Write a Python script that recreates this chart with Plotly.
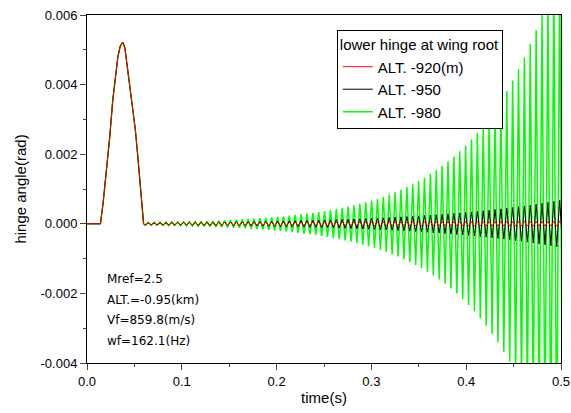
import plotly.graph_objects as go

# initial pulse, identical for all three altitudes
pulse_t = [0.0, 0.0142, 0.0170, 0.0203, 0.0240, 0.0272, 0.0300, 0.0326, 0.0350, 0.0378,
           0.0400, 0.0431, 0.0460, 0.0484, 0.0510, 0.0537, 0.0565, 0.0597, 0.0615]
pulse_y = [0.0, 0.0, 0.0006, 0.00146, 0.0025, 0.00356, 0.0043, 0.0048, 0.0051, 0.00522,
           0.00505, 0.0044, 0.0039, 0.0034, 0.0027, 0.0019, 0.0011, 0.0, -0.00004]

# times of the oscillation peaks after the pulse
osc_t = [0.0646, 0.0677, 0.0708, 0.0739, 0.0770, 0.0801, 0.0832, 0.0863, 0.0894, 0.0925,
         0.0956, 0.0987, 0.1018, 0.1049, 0.1080, 0.1111, 0.1142, 0.1173, 0.1204, 0.1235,
         0.1266, 0.1297, 0.1328, 0.1359, 0.1390, 0.1421, 0.1452, 0.1483, 0.1514, 0.1545,
         0.1576, 0.1607, 0.1638, 0.1669, 0.1700, 0.1731, 0.1762, 0.1793, 0.1824, 0.1855,
         0.1886, 0.1917, 0.1948, 0.1979, 0.2010, 0.2041, 0.2072, 0.2103, 0.2134, 0.2165,
         0.2196, 0.2227, 0.2258, 0.2289, 0.2320, 0.2351, 0.2382, 0.2413, 0.2444, 0.2475,
         0.2506, 0.2537, 0.2568, 0.2599, 0.2630, 0.2661, 0.2692, 0.2723, 0.2754, 0.2785,
         0.2816, 0.2847, 0.2878, 0.2909, 0.2940, 0.2971, 0.3002, 0.3033, 0.3064, 0.3095,
         0.3126, 0.3157, 0.3188, 0.3219, 0.3250, 0.3281, 0.3312, 0.3343, 0.3374, 0.3405,
         0.3436, 0.3467, 0.3498, 0.3529, 0.3560, 0.3591, 0.3622, 0.3653, 0.3684, 0.3715,
         0.3746, 0.3777, 0.3808, 0.3839, 0.3870, 0.3901, 0.3932, 0.3963, 0.3994, 0.4025,
         0.4056, 0.4087, 0.4118, 0.4149, 0.4180, 0.4211, 0.4242, 0.4273, 0.4304, 0.4335,
         0.4366, 0.4397, 0.4428, 0.4459, 0.4490, 0.4521, 0.4552, 0.4583, 0.4614, 0.4645,
         0.4676, 0.4707, 0.4738, 0.4769, 0.4800, 0.4831, 0.4862, 0.4893, 0.4924, 0.4955,
         0.4986, 0.5017]

alt920 = [40e-6, -40e-6, 40e-6, -40e-6, 40e-6, -40e-6, 40e-6, -40e-6, 40e-6, -40e-6,
          42e-6, -42e-6, 42e-6, -42e-6, 42e-6, -42e-6, 42e-6, -42e-6, 42e-6, -42e-6,
          44e-6, -44e-6, 44e-6, -44e-6, 44e-6, -44e-6, 44e-6, -44e-6, 44e-6, -44e-6,
          46e-6, -46e-6, 46e-6, -46e-6, 46e-6, -46e-6, 46e-6, -46e-6, 46e-6, -46e-6,
          48e-6, -48e-6, 48e-6, -48e-6, 48e-6, -48e-6, 48e-6, -48e-6, 48e-6, -48e-6,
          50e-6, -50e-6, 50e-6, -50e-6, 50e-6, -50e-6, 50e-6, -50e-6, 50e-6, -50e-6,
          52e-6, -52e-6, 52e-6, -52e-6, 52e-6, -52e-6, 52e-6, -52e-6, 52e-6, -52e-6,
          55e-6, -55e-6, 55e-6, -55e-6, 55e-6, -55e-6, 55e-6, -55e-6, 55e-6, -55e-6,
          57e-6, -57e-6, 57e-6, -57e-6, 57e-6, -57e-6, 57e-6, -57e-6, 57e-6, -57e-6,
          59e-6, -59e-6, 59e-6, -59e-6, 59e-6, -59e-6, 59e-6, -59e-6, 59e-6, -59e-6,
          61e-6, -61e-6, 61e-6, -61e-6, 61e-6, -61e-6, 61e-6, -61e-6, 61e-6, -61e-6,
          63e-6, -63e-6, 63e-6, -63e-6, 63e-6, -63e-6, 63e-6, -63e-6, 63e-6, -63e-6,
          65e-6, -65e-6, 65e-6, -65e-6, 65e-6, -65e-6, 65e-6, -65e-6, 65e-6, -65e-6,
          67e-6, -67e-6, 67e-6, -67e-6, 67e-6, -67e-6, 67e-6, -67e-6, 67e-6, -67e-6,
          69e-6, -69e-6]

alt950 = [28.4e-6, -29.1e-6, 29.7e-6, -30.4e-6, 31.1e-6, -31.8e-6, 32.5e-6, -33.3e-6, 34.0e-6, -34.8e-6,
          35.6e-6, -36.4e-6, 37.2e-6, -38.1e-6, 39.0e-6, -39.9e-6, 40.8e-6, -41.7e-6, 42.7e-6, -43.6e-6,
          44.7e-6, -45.7e-6, 46.8e-6, -47.8e-6, 48.9e-6, -50.1e-6, 51.2e-6, -52.4e-6, 53.6e-6, -54.8e-6,
          56.0e-6, -57.3e-6, 58.6e-6, -59.9e-6, 61.3e-6, -62.7e-6, 64.1e-6, -65.6e-6, 67.1e-6, -68.7e-6,
          70.2e-6, -71.8e-6, 73.5e-6, -75.1e-6, 76.9e-6, -78.6e-6, 80.4e-6, -82.3e-6, 84.1e-6, -86.1e-6,
          88.0e-6, -90.0e-6, 92.1e-6, -94.2e-6, 96.3e-6, -98.6e-6, 100.8e-6, -103.1e-6, 105.5e-6, -107.9e-6,
          110.4e-6, -112.9e-6, 115.5e-6, -118.2e-6, 120.9e-6, -123.6e-6, 126.5e-6, -129.4e-6, 132.3e-6, -135.4e-6,
          138.4e-6, -141.6e-6, 144.8e-6, -148.1e-6, 151.5e-6, -155.0e-6, 158.5e-6, -162.2e-6, 165.9e-6, -169.7e-6,
          173.6e-6, -177.6e-6, 181.6e-6, -185.8e-6, 190.1e-6, -194.4e-6, 198.9e-6, -203.4e-6, 208.1e-6, -212.8e-6,
          217.7e-6, -222.7e-6, 227.8e-6, -233.0e-6, 238.3e-6, -243.8e-6, 249.4e-6, -255.1e-6, 260.9e-6, -266.9e-6,
          273e-6, -279e-6, 286e-6, -292e-6, 299e-6, -306e-6, 313e-6, -320e-6, 327e-6, -335e-6,
          342e-6, -350e-6, 358e-6, -366e-6, 374e-6, -383e-6, 392e-6, -401e-6, 410e-6, -419e-6,
          429e-6, -439e-6, 449e-6, -459e-6, 470e-6, -480e-6, 491e-6, -503e-6, 514e-6, -526e-6,
          538e-6, -550e-6, 563e-6, -576e-6, 589e-6, -603e-6, 616e-6, -630e-6, 645e-6, -660e-6,
          675e-6, -690e-6]

alt980 = [37.8e-6, -39.3e-6, 40.8e-6, -42.3e-6, 43.9e-6, -45.6e-6, 47.4e-6, -49.2e-6, 51.1e-6, -53.1e-6,
          55.1e-6, -57.3e-6, 59.5e-6, -61.8e-6, 64.2e-6, -66.6e-6, 69.2e-6, -71.9e-6, 74.6e-6, -77.5e-6,
          80.5e-6, -83.6e-6, 86.8e-6, -90.2e-6, 93.6e-6, -97.2e-6, 101e-6, -105e-6, 109e-6, -113e-6,
          117e-6, -122e-6, 127e-6, -132e-6, 137e-6, -142e-6, 148e-6, -153e-6, 159e-6, -165e-6,
          172e-6, -178e-6, 185e-6, -192e-6, 200e-6, -208e-6, 216e-6, -224e-6, 233e-6, -242e-6,
          250e-6, -260e-6, 270e-6, -281e-6, 292e-6, -303e-6, 314e-6, -327e-6, 339e-6, -352e-6,
          366e-6, -380e-6, 394e-6, -410e-6, 425e-6, -442e-6, 459e-6, -476e-6, 495e-6, -514e-6,
          534e-6, -554e-6, 576e-6, -598e-6, 621e-6, -645e-6, 670e-6, -695e-6, 722e-6, -750e-6,
          779e-6, -809e-6, 840e-6, -873e-6, 906e-6, -941e-6, 978e-6, -1015e-6, 1054e-6, -1095e-6,
          1137e-6, -1181e-6, 1226e-6, -1274e-6, 1323e-6, -1374e-6, 1427e-6, -1482e-6, 1539e-6, -1598e-6,
          1660e-6, -1724e-6, 1790e-6, -1859e-6, 1931e-6, -2005e-6, 2083e-6, -2163e-6, 2246e-6, -2333e-6,
          2423e-6, -2516e-6, 2613e-6, -2714e-6, 2818e-6, -2927e-6, 3040e-6, -3157e-6, 3279e-6, -3405e-6,
          3537e-6, -3673e-6, 3815e-6, -3962e-6, 4114e-6, -4273e-6, 4438e-6, -4609e-6, 4786e-6, -4971e-6,
          5163e-6, -5362e-6, 5568e-6, -5783e-6, 6006e-6, -6237e-6, 6478e-6, -6727e-6, 6986e-6, -7256e-6,
          7535e-6, -7826e-6]

names = ["ALT. -920(m)", "ALT. -950", "ALT. -980"]
colors = ["#ff0000", "#000000", "#00ff00"]
info_lines = ["Mref=2.5", "ALT.=-0.95(km)", "Vf=859.8(m/s)", "wf=162.1(Hz)"]

t_all = pulse_t + osc_t
series = [pulse_y + alt920, pulse_y + alt950, pulse_y + alt980]

fig = go.Figure()
# green drawn first so black and red sit on top of it
for i in [2, 1, 0]:
    fig.add_trace(go.Scatter(x=t_all, y=series[i], mode="lines", name=names[i],
                             line=dict(color=colors[i], width=1.5 if i == 2 else 1)))

fig.update_layout(
    width=571, height=413,
    margin=dict(l=87, r=10, t=15, b=50),
    plot_bgcolor="white", paper_bgcolor="white",
    font=dict(family="Liberation Sans, Arial", size=13, color="black"),
    showlegend=True,
    legend=dict(
        title=dict(text="lower hinge at wing root", font=dict(size=15)),
        traceorder="reversed",
        x=0.527, y=0.957, xanchor="left", yanchor="top",
        bgcolor="white", bordercolor="black", borderwidth=1,
        font=dict(size=15), itemwidth=30, tracegroupgap=0,
    ),
)

fig.update_xaxes(range=[0, 0.5], tickvals=[0, 0.1, 0.2, 0.3, 0.4, 0.5],
                 ticktext=["0.0", "0.1", "0.2", "0.3", "0.4", "0.5"],
                 showgrid=False, zeroline=False, showline=True, linecolor="black",
                 linewidth=1, mirror=True, ticks="outside", ticklen=6, tickwidth=1,
                 minor=dict(ticks="outside", ticklen=3, dtick=0.05, tick0=0),
                 automargin=False, ticklabeloverflow="allow",
                 title=dict(text="time(s)", font=dict(size=15), standoff=4))
fig.update_yaxes(range=[-0.004, 0.006], tickvals=[-0.004, -0.002, 0, 0.002, 0.004, 0.006],
                 ticktext=["-0.004", "-0.002", "0.000", "0.002", "0.004", "0.006"],
                 showgrid=False, zeroline=False, showline=True, linecolor="black",
                 linewidth=1, mirror=True, ticks="outside", ticklen=6, tickwidth=1,
                 minor=dict(ticks="outside", ticklen=3, dtick=0.001, tick0=0),
                 automargin=False, ticklabeloverflow="allow",
                 title=dict(text="hinge angle(rad)", font=dict(size=15), standoff=10))

for j, txt in enumerate(info_lines):
    fig.add_annotation(text=txt, xref="paper", yref="paper", x=0.037, y=0.241 - j * 0.059,
                       xanchor="left", yanchor="middle", showarrow=False,
                       font=dict(family="Comic Sans MS, DejaVu Sans", size=12, color="black"))

# drop the browser's default 8px body margin so the figure fills the window
fig.write_html("out.html", config={"displayModeBar": False},
               post_script="document.body.style.margin = '0';")
